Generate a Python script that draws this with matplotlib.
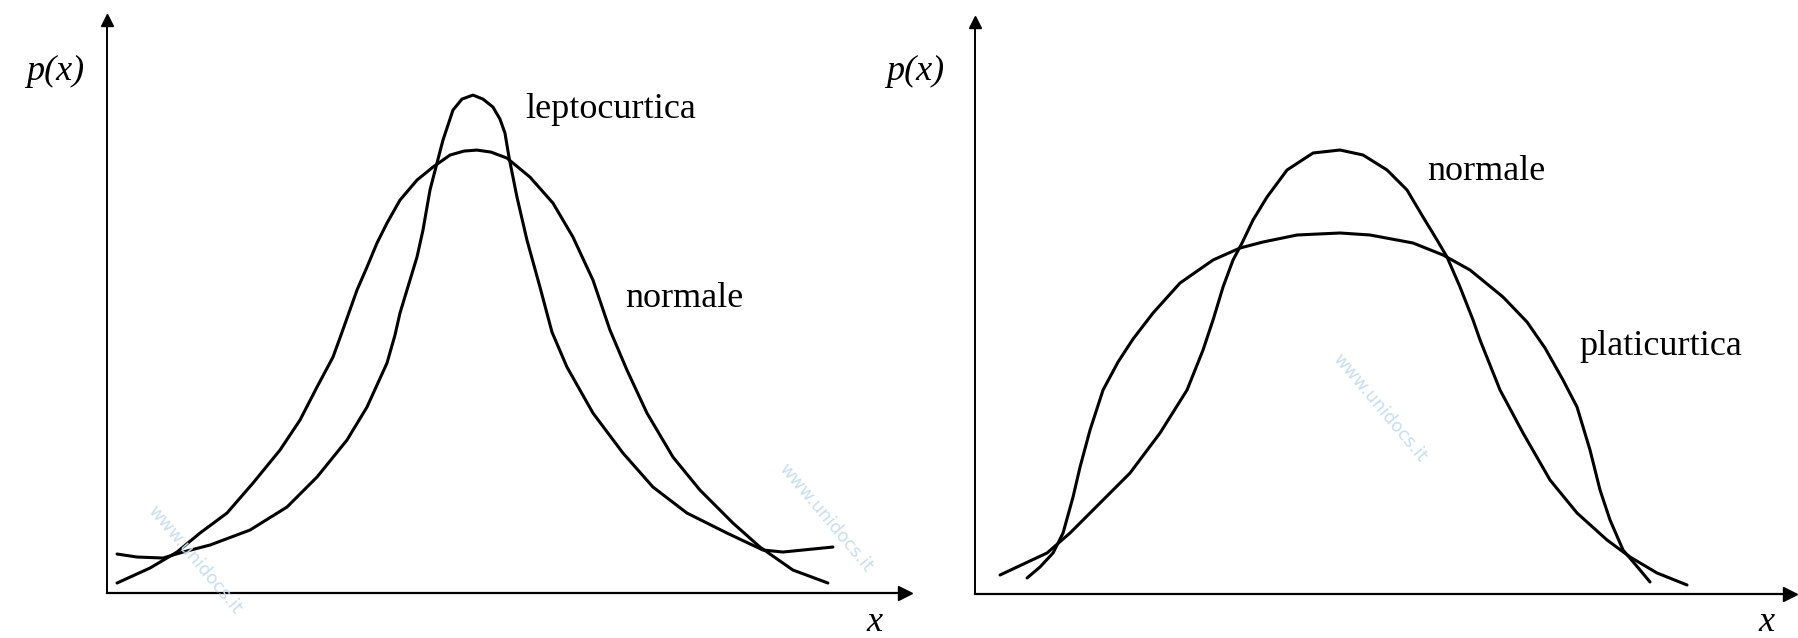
import matplotlib.pyplot as plt

plt.rcParams['font.family'] = ['Liberation Serif', 'DejaVu Serif']

# left panel: normale vs leptocurtica
norm_l_x = [-3.59, -3.26, -2.99, -2.76, -2.49, -2.23, -1.96, -1.76, -1.59, -1.43, -1.35, -1.19, -1.09,
            -0.99, -0.89, -0.76, -0.59, -0.43, -0.26, -0.12, 0.01, 0.15, 0.31, 0.54, 0.77, 0.97, 1.17, 1.34,
            1.51, 1.71, 1.97, 2.24, 2.57, 2.84, 3.17, 3.52]
norm_l_y = [0.10, 0.25, 0.41, 0.60, 0.80, 1.10, 1.43, 1.73, 2.06, 2.36, 2.58, 3.03, 3.26,
            3.50, 3.70, 3.93, 4.13, 4.26, 4.38, 4.42, 4.43, 4.41, 4.35, 4.16, 3.90, 3.56, 3.13, 2.63,
            2.23, 1.80, 1.36, 1.03, 0.70, 0.46, 0.23, 0.10]
lepto_x = [-3.59, -3.39, -3.13, -2.93, -2.66, -2.26, -1.89, -1.59, -1.29, -1.09, -0.89, -0.81, -0.76,
           -0.66, -0.59, -0.53, -0.46, -0.39, -0.33, -0.23, -0.14, -0.03, 0.07, 0.17, 0.24, 0.29, 0.33, 0.41, 0.51,
           0.64, 0.76, 0.91, 1.17, 1.47, 1.77, 2.11, 2.51, 2.87, 3.07, 3.57]
lepto_y = [0.39, 0.36, 0.35, 0.41, 0.48, 0.63, 0.86, 1.16, 1.53, 1.86, 2.30, 2.58, 2.80,
           3.13, 3.36, 3.63, 4.03, 4.30, 4.53, 4.83, 4.94, 4.98, 4.94, 4.86, 4.74, 4.60, 4.36, 3.96, 3.53,
           3.06, 2.61, 2.26, 1.80, 1.40, 1.06, 0.80, 0.60, 0.43, 0.41, 0.46]

# right panel: normale vs platicurtica
norm_r_x = [-3.41, -2.94, -2.71, -2.41, -2.11, -1.81, -1.54, -1.38, -1.28, -1.18, -1.08, -0.99,
            -0.88, -0.74, -0.54, -0.28, -0.01, 0.22, 0.46, 0.66, 0.82, 0.96, 1.06, 1.19, 1.32,
            1.39, 1.59, 1.82, 2.09, 2.36, 2.66, 2.89, 3.16, 3.46]
norm_r_y = [0.19, 0.41, 0.61, 0.91, 1.21, 1.61, 2.04, 2.44, 2.74, 3.07, 3.34, 3.51,
            3.74, 3.97, 4.24, 4.41, 4.44, 4.39, 4.24, 4.04, 3.77, 3.54, 3.37, 3.07, 2.74,
            2.54, 2.04, 1.61, 1.14, 0.81, 0.54, 0.37, 0.21, 0.09]
plati_x = [-3.14, -3.01, -2.88, -2.78, -2.68, -2.61, -2.51, -2.38, -2.23, -2.08, -1.88, -1.61,
           -1.28, -1.01, -0.78, -0.44, -0.01, 0.29, 0.72, 1.02, 1.29, 1.62, 1.86, 2.04, 2.22,
           2.36, 2.49, 2.59, 2.69, 2.82, 2.99, 3.09]
plati_y = [0.16, 0.27, 0.41, 0.61, 0.97, 1.27, 1.64, 2.04, 2.32, 2.55, 2.81, 3.11,
           3.34, 3.46, 3.52, 3.59, 3.61, 3.59, 3.51, 3.39, 3.24, 2.97, 2.72, 2.46, 2.14,
           1.87, 1.44, 1.04, 0.74, 0.44, 0.24, 0.12]

fig = plt.figure(figsize=(17.99, 6.38), dpi=100)
ax1 = fig.add_axes([0.0595, 0.0705, 0.4435, 0.898])
ax2 = fig.add_axes([0.542, 0.069, 0.453, 0.8965])

def setup(ax, xlim, ylim):
    ax.set_xlim(*xlim)
    ax.set_ylim(*ylim)
    ax.set_xticks([])
    ax.set_yticks([])
    ax.spines['top'].set_visible(False)
    ax.spines['right'].set_visible(False)
    ax.spines['left'].set_linewidth(1.4)
    ax.spines['bottom'].set_linewidth(1.6)
    # arrow heads
    ax.plot(0, 1, '^', ms=9, color='k', transform=ax.transAxes, clip_on=False)
    ax.plot(1, 0, '>', ms=10, color='k', transform=ax.transAxes, clip_on=False)
    ax.patch.set_alpha(0)

setup(ax1, (-3.69, 4.29), (0, 5.73))
setup(ax2, (-3.66, 4.49), (0, 5.72))

lw = 2.2
for ax, xs, ys in [(ax1, norm_l_x, norm_l_y), (ax1, lepto_x, lepto_y),
                   (ax2, norm_r_x, norm_r_y), (ax2, plati_x, plati_y)]:
    ax.plot(xs, ys, color='k', lw=lw, solid_joinstyle='round', solid_capstyle='round')

fs = 26
ax1.text(-4.50, 5.13, 'p(x)', fontsize=fs, style='italic', va='baseline', clip_on=False)
ax1.text(3.99, -0.29, 'x', fontsize=fs, style='italic', ha='center', va='center', clip_on=False)
ax1.text(0.49, 4.75, 'leptocurtica', fontsize=fs, va='baseline')
ax1.text(1.49, 2.86, 'normale', fontsize=fs, va='baseline')

ax2.text(-4.55, 5.14, 'p(x)', fontsize=fs, style='italic', va='baseline', clip_on=False)
ax2.text(4.25, -0.29, 'x', fontsize=fs, style='italic', ha='center', va='center', clip_on=False)
ax2.text(0.86, 4.14, 'normale', fontsize=fs, va='baseline')
ax2.text(2.38, 2.39, 'platicurtica', fontsize=fs, va='baseline')

# faint watermark of the scan
wm = dict(fontsize=13, color='#c9def0', rotation=-50, ha='center', va='center',
          family='DejaVu Sans', zorder=0)
fig.text(195 / 1799, 1 - 560 / 638, 'www.unidocs.it', **wm)
fig.text(826 / 1799, 1 - 518 / 638, 'www.unidocs.it', **wm)
fig.text(1380 / 1799, 1 - 408 / 638, 'www.unidocs.it', **wm)

fig.savefig('out.png', dpi=100)
